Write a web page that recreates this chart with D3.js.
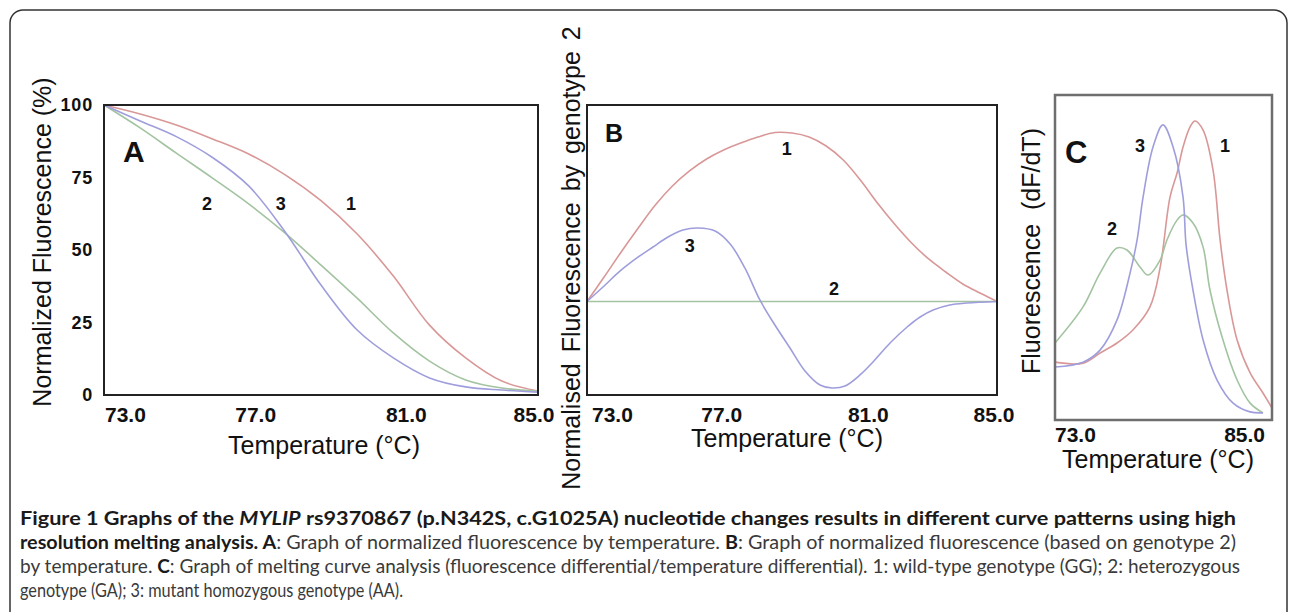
<!DOCTYPE html>
<html>
<head>
<meta charset="utf-8">
<script src="https://cdn.jsdelivr.net/npm/d3@7"></script>
<style>
body{margin:0;background:#fff;}
svg text{font-family:"Liberation Sans", Arial, sans-serif;fill:#111;}
</style>
</head>
<body>
<div id="figure"></div>
<script>
//temperature ticks and percent ticks
var tempTicks = [73, 77, 81, 85];
var tempTicksC = [73, 85];
var percentTicks = [0, 25, 50, 75, 100];
var tickNames = ["73.0", "77.0", "81.0", "85.0"];
var tickNamesC = ["73.0", "85.0"];

//panel A - normalized fluorescence (%) read every 1 degree
var aTemp   = [73, 74, 75, 76, 77, 78, 79, 80, 81, 82, 83, 84, 85];
var a1Value = [100, 96.9, 93.1, 88.3, 83.1, 76.0, 67.0, 55.5, 41.0, 24.1, 12.8, 4.8, 1.4];
var a2Value = [100, 92.1, 83.4, 74.8, 65.9, 55.9, 44.8, 33.4, 21.4, 11.7, 5.2, 2.4, 1.4];
var a3Value = [100, 94.5, 89.1, 81.9, 72.1, 56.4, 37.9, 22.4, 12.8, 5.9, 2.8, 1.7, 1.0];

//panel B - fluorescence normalised by genotype 2
var b1Temp  = [73, 73.5, 74, 74.5, 75, 75.5, 76, 76.5, 77, 77.5, 78, 78.5, 79, 79.5, 80, 80.5, 81, 81.5, 82, 82.5, 83, 83.5, 84, 84.5, 85];
var b1Value = [0, 2.61, 5.29, 7.85, 10.31, 12.34, 13.95, 15.23, 16.19, 16.94, 17.58, 18.06, 18.0, 17.58, 16.62, 15.12, 12.98, 10.52, 8.28, 6.25, 4.54, 3.15, 1.87, 0.9, 0];
var b2Temp  = [73.0, 85.0];
var b2Value = [0, 0];
var b3Temp  = [73.0, 73.5, 73.97, 74.46, 74.93, 75.37, 75.81, 76.25, 76.75, 77.19, 77.62, 78.06, 78.5, 78.94, 79.38, 79.82, 80.17, 80.55, 80.99, 81.37, 81.87, 82.37, 82.75, 83.13, 83.62, 84.12, 85.0];
var b3Value = [0, 1.65, 3.26, 4.65, 5.82, 6.89, 7.64, 7.85, 7.53, 6.14, 3.58, 0.16, -2.52, -4.98, -7.43, -8.93, -9.25, -9.04, -7.86, -6.47, -4.44, -2.73, -1.66, -0.91, -0.38, -0.17, 0];

//panel C - melting curves dF/dT
var c1Temp  = [73.0, 74.55, 75.49, 76.43, 77.31, 78.25, 78.81, 79.36, 79.75, 80.08, 80.47, 80.74, 81.19, 81.74, 82.13, 82.51, 83.07, 83.79, 84.5, 85.0];
var c1Value = [17.8, 17.5, 20.6, 23.7, 27.7, 34.8, 46.8, 68.6, 76.0, 84.0, 90.2, 92.0, 89.2, 76.9, 55.4, 40.0, 24.6, 14.5, 8.3, 3.7];
var c2Temp  = [73.0, 74.55, 75.49, 76.43, 76.98, 77.7, 78.14, 78.81, 79.19, 79.75, 80.08, 80.63, 81.19, 81.57, 82.29, 83.07, 83.79, 84.5];
var c2Value = [23.7, 34.8, 45.2, 52.9, 52.3, 47.1, 44.6, 49.2, 55.4, 61.5, 63.1, 60.6, 53.2, 40.0, 24.6, 12.3, 5.2, 2.2];
var c3Temp  = [73.0, 74.55, 75.49, 76.43, 77.15, 77.54, 77.87, 78.42, 78.97, 79.53, 80.08, 80.25, 80.63, 81.19, 81.96, 82.85, 83.79, 84.5];
var c3Value = [16.3, 17.8, 21.5, 30.8, 45.2, 55.4, 68.6, 84.0, 90.8, 84.0, 68.6, 53.8, 40.0, 24.6, 12.3, 5.2, 2.5, 2.2];

//curve number labels [temperature, value, text]
var aNumbers = [[75.85, 63.8, "2"], [77.89, 63.8, "3"], [79.83, 63.8, "1"]];
var bNumbers = [[78.85, 15.66, "1"], [76.01, 5.29, "3"], [80.23, 0.69, "2"]];
var cNumbers = [[77.70, 82.5, "3"], [82.40, 82.5, "1"], [76.15, 56.9, "2"]];

//colours of genotype 1, 2 and 3
var red = "#d99797", green = "#a3c3a1", blue = "#9f9edc";

var svg = d3.select("#figure")
            .append("svg")
            .attr("width", 1290)
            .attr("height", 612);

//outer rounded frame of the figure
svg.append("rect")
    .attr("x", 10)
    .attr("y", 10)
    .attr("width", 1277)
    .attr("height", 720)
    .attr("rx", 13)
    .attr("fill", "none")
    .attr("stroke", "#333")
    .attr("stroke-width", 1.5);

//draws one panel of the figure
function drawPanel(p) {
    var g = svg.append("g");

    var x = d3.scaleLinear().domain([73, 85]).range([p.left, p.right]);
    var y = d3.scaleLinear().domain(p.yDomain).range([p.bottom, p.top]);

    var line = d3.line()
                .x(function(d){ return x(d[0]); })
                .y(function(d){ return y(d[1]); })
                .curve(d3.curveCatmullRom);

    p.series.forEach(function(s){
        g.append("path")
            .datum(d3.zip(s[0], s[1]))
            .attr("d", line)
            .attr("fill", "none")
            .attr("stroke", s[2])
            .attr("stroke-width", 1.6);
    });

    //plot box
    g.append("rect")
        .attr("x", p.left)
        .attr("y", p.top)
        .attr("width", p.right - p.left)
        .attr("height", p.bottom - p.top)
        .attr("fill", "none")
        .attr("stroke", p.boxColour)
        .attr("stroke-width", p.boxWidth);

    //temperature tick labels
    g.selectAll(".xtick")
        .data(p.ticks)
        .enter()
        .append("text")
        .attr("class", "xtick")
        .attr("x", function(d, i){ return x(d) + p.tickShift[i]; })
        .attr("y", p.tickY)
        .attr("text-anchor", function(d, i){ return p.tickAnchor[i]; })
        .style("font-size", "21px")
        .style("font-weight", "bold")
        .text(function(d, i){ return p.tickNames[i]; });

    //x axis title
    g.append("text")
        .attr("x", p.xTitle[0])
        .attr("y", p.xTitle[1])
        .attr("text-anchor", "middle")
        .style("font-size", "25px")
        .text("Temperature (\u00B0C)");

    //y axis title
    g.append("text")
        .attr("transform", "translate(" + p.yTitle[0] + "," + p.yTitle[1] + ") rotate(-90)")
        .attr("text-anchor", "middle")
        .style("font-size", "25px")
        .style("word-spacing", p.wordSpacing)
        .text(p.yTitle[2]);

    //panel letter
    g.append("text")
        .attr("x", p.letter[0])
        .attr("y", p.letter[1])
        .style("font-size", p.letter[3])
        .style("font-weight", "bold")
        .text(p.letter[2]);

    //curve numbers
    g.selectAll(".num")
        .data(p.numbers)
        .enter()
        .append("text")
        .attr("class", "num")
        .attr("x", function(d){ return x(d[0]); })
        .attr("y", function(d){ return y(d[1]); })
        .attr("text-anchor", "middle")
        .style("font-size", "18px")
        .style("font-weight", "bold")
        .text(function(d){ return d[2]; });

    return y;
}

var yA = drawPanel({
    left: 104, right: 538, top: 105, bottom: 395,
    yDomain: [0, 100],
    series: [[aTemp, a1Value, red], [aTemp, a2Value, green], [aTemp, a3Value, blue]],
    boxColour: "#222", boxWidth: 2,
    ticks: tempTicks, tickNames: tickNames, tickY: 422,
    tickAnchor: ["start", "middle", "middle", "middle"], tickShift: [1, 7, 13, -4],
    xTitle: [324, 454],
    yTitle: [51, 242, "Normalized Fluorescence (%)"], wordSpacing: "0px",
    letter: [123, 162, "A", "30px"],
    numbers: aNumbers
});

//percent ticks of panel A
svg.selectAll(".ytick")
    .data(percentTicks)
    .enter()
    .append("text")
    .attr("class", "ytick")
    .attr("x", 93)
    .attr("y", function(d){ return yA(d) + 6; })
    .attr("text-anchor", "end")
    .style("font-size", "18px")
    .style("font-weight", "bold")
    .style("letter-spacing", "0.8px")
    .text(function(d){ return d; });

drawPanel({
    left: 587, right: 997, top: 105, bottom: 395,
    yDomain: [-10, 21],
    series: [[b1Temp, b1Value, red], [b2Temp, b2Value, green], [b3Temp, b3Value, blue]],
    boxColour: "#222", boxWidth: 2,
    ticks: tempTicks, tickNames: tickNames, tickY: 422,
    tickAnchor: ["start", "middle", "middle", "middle"], tickShift: [5, -2, 8, -3],
    xTitle: [787, 447],
    yTitle: [580, 258, "Normalised Fluorescence by genotype 2"], wordSpacing: "4px",
    letter: [605, 142, "B", "25px"],
    numbers: bNumbers
});

drawPanel({
    left: 1055, right: 1272, top: 95, bottom: 420,
    yDomain: [0, 100],
    series: [[c1Temp, c1Value, red], [c2Temp, c2Value, green], [c3Temp, c3Value, blue]],
    boxColour: "#6e6e6e", boxWidth: 2.5,
    ticks: tempTicksC, tickNames: tickNamesC, tickY: 442,
    tickAnchor: ["start", "end"], tickShift: [0, -7],
    xTitle: [1158, 468],
    yTitle: [1040, 251, "Fluorescence\u00A0\u00A0(dF/dT)"], wordSpacing: "0px",
    letter: [1065, 163, "C", "31px"],
    numbers: cNumbers
});

//figure caption
var captionLines = [
    [["Figure 1 Graphs of the ", "b"], ["MYLIP", "bi"], [" rs9370867 (p.N342S, c.G1025A) nucleotide changes results in different curve patterns using high", "b"]],
    [["resolution melting analysis. A", "b"], [": Graph of normalized fluorescence by temperature. ", "r"], ["B", "b"], [": Graph of normalized fluorescence (based on genotype 2)", "r"]],
    [["by temperature. ", "r"], ["C", "b"], [": Graph of melting curve analysis (fluorescence differential/temperature differential). 1: wild-type genotype (GG); 2: heterozygous", "r"]],
    [["genotype (GA); 3: mutant homozygous genotype (AA).", "r"]]
];
//width of each caption line
var captionWidths = [1216, 1216, 1220, 383];

var captionTexts = captionLines.map(function(parts, i){
    var t = svg.append("text")
                .attr("x", 20)
                .attr("y", 525 + i * 24)
                .style("font-family", "Lato, 'Open Sans', sans-serif")
                .style("font-size", "18px");
    parts.forEach(function(part){
        t.append("tspan")
            .style("font-weight", part[1] == "r" ? "normal" : "bold")
            .style("font-style", part[1] == "bi" ? "italic" : "normal")
            .style("fill", part[1] == "r" ? "#3a3a3a" : "#1a1a1a")
            .text(part[0]);
    });
    return t;
});

//size the caption font from the third line, then fit every line to its width
var captionSize = 18 * captionWidths[2] / captionTexts[2].node().getComputedTextLength();
captionTexts.forEach(function(t, i){
    t.style("font-size", captionSize + "px")
        .attr("textLength", captionWidths[i])
        .attr("lengthAdjust", "spacingAndGlyphs");
});
</script>
</body>
</html>
